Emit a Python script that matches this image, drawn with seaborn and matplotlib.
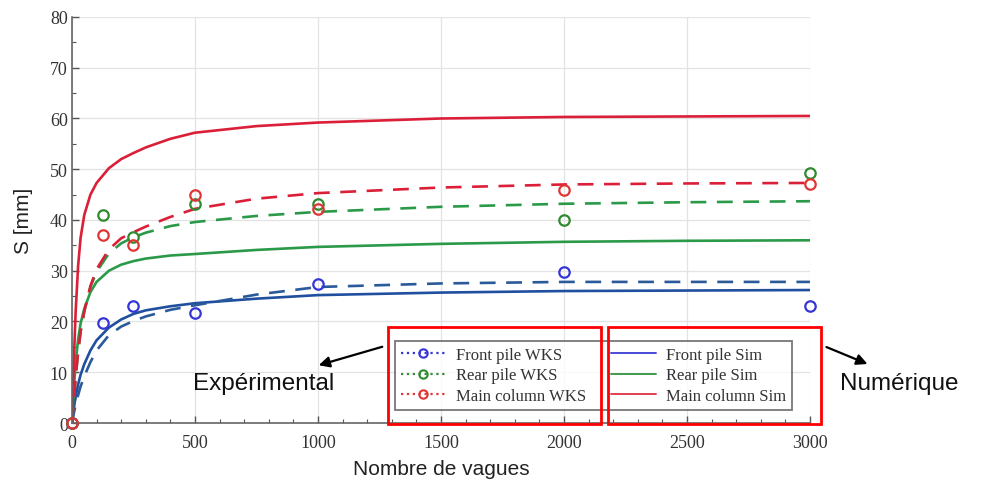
import numpy as np
import pandas as pd
import seaborn as sns
import matplotlib
matplotlib.use("Agg")
import matplotlib.pyplot as plt
from matplotlib.lines import Line2D
from matplotlib.patches import Rectangle, FancyArrowPatch

# ---------------- data ----------------
# experimental points (WKS)
exp_x = [0, 125, 250, 500, 1000, 2000, 3000]
front_wks_pts = [0, 19.7, 23.0, 21.7, 27.4, 29.7, 23.0]
rear_wks_pts = [0, 41.0, 36.6, 43.2, 43.2, 40.0, 49.3]
main_wks_pts = [0, 37.0, 35.0, 45.0, 42.2, 46.0, 47.0]

# fitted experimental curves (dashed) and simulation curves (solid)
curve_x = [0, 5, 10, 15, 25, 35, 50, 75, 100, 150, 200, 250, 300, 400, 500, 750, 1000, 1500, 2000, 2500, 3000]
front_wks_fit = [0, 1.3, 2.5, 3.6, 5.5, 7.2, 9.2, 12.0, 14.3, 17.3, 19.0, 20.1, 21.0, 22.3, 23.2, 25.3, 26.8, 27.5, 27.8, 27.8, 27.8]
rear_wks_fit = [0, 3.0, 6.0, 9.0, 14.0, 18.0, 22.0, 26.8, 29.8, 33.4, 35.4, 36.6, 37.5, 38.8, 39.6, 40.8, 41.6, 42.6, 43.2, 43.5, 43.7]
main_wks_fit = [0, 3.0, 6.0, 9.0, 14.0, 18.0, 22.0, 27.0, 30.3, 34.2, 36.4, 37.6, 38.7, 40.6, 42.2, 44.2, 45.3, 46.4, 47.0, 47.2, 47.3]
front_sim = [0, 2.0, 3.7, 5.2, 7.6, 9.5, 11.6, 14.3, 16.3, 18.8, 20.4, 21.5, 22.2, 23.0, 23.6, 24.5, 25.2, 25.7, 26.0, 26.1, 26.2]
rear_sim = [0, 4.5, 8.5, 12.0, 16.5, 19.6, 22.5, 25.8, 27.8, 30.0, 31.2, 31.9, 32.4, 33.0, 33.3, 34.1, 34.7, 35.3, 35.7, 35.9, 36.0]
main_sim = [0, 8.0, 15.5, 22.0, 31.0, 36.5, 41.0, 45.0, 47.3, 50.2, 52.0, 53.2, 54.3, 56.0, 57.2, 58.5, 59.2, 60.0, 60.3, 60.4, 60.5]

labels_wks = ["Front pile WKS", "Rear pile WKS", "Main column WKS"]
labels_sim = ["Front pile Sim", "Rear pile Sim", "Main column Sim"]
x_label = "Nombre de vagues"
y_label = "S [mm]"
note_left = "Expérimental"
note_right = "Numérique"

# ---------------- style ----------------
sns.set_theme(style="white")
plt.rcParams["font.family"] = ["Liberation Serif", "DejaVu Serif"]

c_blue_line = "#1f4f9e"
c_blue_dash = "#2a5a9a"
c_green = "#2a9a48"
c_red = "#dc1f38"
c_blue_mk = "#3535d8"
c_green_mk = "#2f8a30"
c_red_mk = "#e03535"

fig = plt.figure(figsize=(9.82, 4.81), dpi=100)
ax = fig.add_axes([0.0733, 0.1185, 0.7515, 0.8441])

lw = 1.9
dash = (6, 4)

# solid simulation curves
for y, c in [(front_sim, c_blue_line), (rear_sim, c_green), (main_sim, c_red)]:
    sns.lineplot(x=curve_x, y=y, ax=ax, color=c, lw=lw, estimator=None, sort=False)

# dashed experimental fits
for y, c in [(front_wks_fit, c_blue_dash), (rear_wks_fit, c_green), (main_wks_fit, c_red)]:
    l = sns.lineplot(x=curve_x, y=y, ax=ax, color=c, lw=lw, estimator=None, sort=False)
    l.lines[-1].set_dashes(dash)

# experimental points
for y, c in [(front_wks_pts, c_blue_mk), (rear_wks_pts, c_green_mk), (main_wks_pts, c_red_mk)]:
    sns.lineplot(x=exp_x, y=y, ax=ax, color=c, linestyle="", marker="o",
                 markersize=7.5, markerfacecolor="none", markeredgecolor=c,
                 markeredgewidth=1.6, estimator=None, sort=False, clip_on=False, zorder=5)

ax.set_xlim(0, 3000)
ax.set_ylim(0, 80)
ax.set_xticks(np.arange(0, 3001, 500))
ax.set_yticks(np.arange(0, 81, 10))
ax.set_xticks(np.arange(0, 3001, 100), minor=True)
ax.set_yticks(np.arange(0, 81, 5), minor=True)
ax.grid(True, which="major", color="#e3e3e3", lw=0.9)
ax.tick_params(which="both", direction="in", colors="#555555", labelcolor="#333333",
               labelsize=13)
ax.tick_params(which="major", length=5, width=1)
ax.tick_params(which="minor", length=3, width=0.8)
ax.tick_params(axis="x", which="both", bottom=True, top=False, pad=8)
ax.tick_params(axis="y", which="both", left=True, right=False, pad=3)
for s in ["top", "right"]:
    ax.spines[s].set_visible(False)
for s in ["left", "bottom"]:
    ax.spines[s].set_color("#666666")
    ax.spines[s].set_linewidth(1.2)

ax.set_xlabel(x_label, family=["Liberation Sans", "DejaVu Sans"], fontsize=15, color="#222222", labelpad=6)
ax.set_ylabel(y_label, family=["Liberation Sans", "DejaVu Sans"], fontsize=15, color="#222222", labelpad=12)

# legend
handles = []
for c in [c_blue_mk, c_green_mk, c_red_mk]:
    handles.append(Line2D([], [], color=c, ls=":", lw=1.6, marker="o", markersize=6,
                          markerfacecolor="none", markeredgecolor=c, markeredgewidth=1.5))
for c in ["#4a4ad8", "#3f9a4f", "#e04050"]:
    handles.append(Line2D([], [], color=c, lw=1.4))
leg = ax.legend(handles, labels_wks + labels_sim, ncol=2, loc="lower right",
                bbox_to_anchor=(0.9864, 0.0125), frameon=True, fancybox=False,
                edgecolor="#555555", fontsize=12, handlelength=2.7,
                columnspacing=1.5, labelspacing=0.26, borderpad=0.35,
                handletextpad=0.6)
leg.get_frame().set_linewidth(1.3)
for t in leg.get_texts():
    t.set_color("#333333")

# annotation boxes, arrows and notes
for x0 in [0.395, 0.619]:
    fig.patches.append(Rectangle((x0, 0.1164), 0.217, 0.2017, transform=fig.transFigure,
                                 fill=False, edgecolor="#ff0000", lw=2.0, zorder=10))
for start, end in [((0.392, 0.2786), (0.3218, 0.237)), ((0.839, 0.2786), (0.886, 0.239))]:
    fig.patches.append(FancyArrowPatch(start, end, transform=fig.transFigure,
                                       arrowstyle="-|>", mutation_scale=16, color="black",
                                       lw=1.6, zorder=10))
fig.text(0.1965, 0.2017, note_left, family=["Liberation Sans", "DejaVu Sans"], fontsize=17.5,
         ha="left", va="center", color="#111111")
fig.text(0.855, 0.2017, note_right, family=["Liberation Sans", "DejaVu Sans"], fontsize=17.5,
         ha="left", va="center", color="#111111")

fig.savefig("out.png", dpi=100)
